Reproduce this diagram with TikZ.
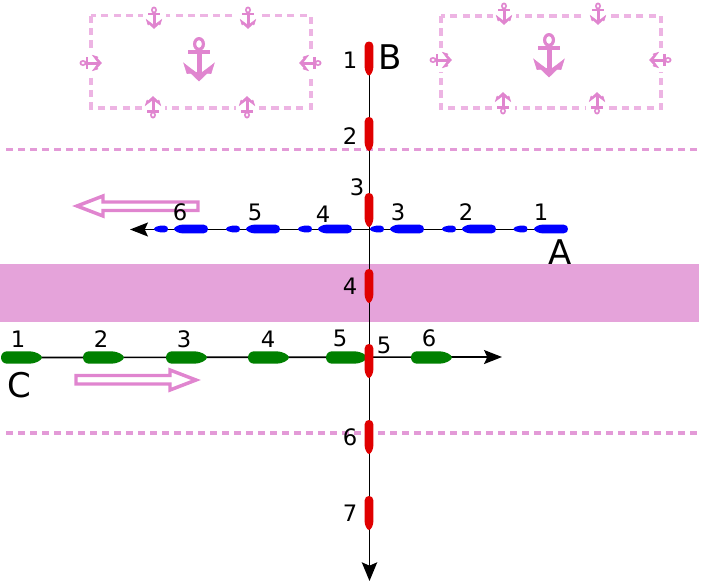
\documentclass[tikz,border=0pt]{standalone}
\usepackage{fontspec}
\setmainfont{DejaVu Sans}
\usetikzlibrary{arrows.meta}
\definecolor{bandpink}{HTML}{E5A3DA}
\definecolor{anchorpink}{HTML}{E085CF}
\definecolor{lightdash}{HTML}{EDB4E3}
\definecolor{shipred}{HTML}{E00000}
\definecolor{shipblue}{HTML}{0000FF}
\definecolor{shipgreen}{HTML}{008000}
\tikzset{
  zone/.style={bandpink!70!anchorpink,line width=2.9pt,dash pattern=on 5.6pt off 3.4pt},
  lane/.style={draw=lightdash,line width=2.3pt,dash pattern=on 5.4pt off 3.9pt},
  track/.style={line width=1.25pt,draw=black,-{Stealth[length=13.5pt,width=10.5pt,inset=2.5pt]}},
  trackv/.style={line width=1.25pt,draw=black,-{Stealth[length=14pt,width=11.5pt,inset=2.5pt]}},
  hollow/.style={draw=anchorpink,line width=2.6pt,fill=white,line join=miter},
  num/.style={font=\fontsize{17}{19}\selectfont,inner sep=0pt,text=black},
  big/.style={font=\fontsize{25.5}{28}\selectfont,inner sep=0pt,text=black},
  amark/.style={fill=anchorpink,draw=anchorpink,line width=0.45pt},
}
% \anchormark{x}{y}{scale}{rotation}
\newcommand{\anchormark}[4]{%
  \begin{scope}[shift={(#1,#2)},rotate=#4,scale=#3]
    \fill[white] (-23,-22) rectangle (23,22);
    \fill[anchorpink,even odd rule] (0,-16) ellipse [x radius=6,y radius=7]
      (0,-16) ellipse [x radius=2.9,y radius=3.9];
    \path[amark] (-2,-10) rectangle (2,16);
    \path[amark] (-10.5,-9.6) rectangle (10.5,-7);
    \path[amark] (-15.2,3.3) -- (-12,13.5) -- (-8,13.3) -- (0,21) -- (8,13.3) -- (12,13.5)
      -- (15.2,3.3) -- (8.5,8.5) -- (3,12.5) -- (-3,12.5) -- (-8.5,8.5) -- cycle;
  \end{scope}}
% \ship{x}{y}{half length}{half beam}{colour}{rotation}: pointing along local +x
\newcommand{\ship}[6]{%
  \begin{scope}[shift={(#1,#2)},rotate=#6]
    \fill[#5] (-#3+#4,-#4) -- (#3-#4*2,-#4)
      .. controls (#3-#4*1.1,-#4) and (#3,-#4*0.45) .. (#3,0)
      .. controls (#3,#4*0.45) and (#3-#4*1.1,#4) .. (#3-#4*2,#4)
      -- (-#3+#4,#4)
      .. controls (-#3-#4*0.33,#4) and (-#3-#4*0.33,-#4) .. (-#3+#4,-#4) -- cycle;
  \end{scope}}
\begin{document}
\begin{tikzpicture}[x=0.75pt,y=-0.75pt]
\useasboundingbox (0,0) rectangle (702,582);
% water band and zone limits
\fill[bandpink] (0,264) rectangle (699,322);
\coordinate (z1a) at (6,149.5); \coordinate (z1b) at (698,149.5);
\coordinate (z2a) at (6,433); \coordinate (z2b) at (698,433);
\draw[zone] (z1a) -- (z1b);
\draw[zone] (z2a) -- (z2b);
% anchorages
\draw[lane] (91,15.5) rectangle (311,108);
\draw[lane] (441,16) rectangle (661,108);
\anchormark{199}{60}{1}{0}
\anchormark{154}{18}{0.5}{0}
\anchormark{248}{18}{0.5}{0}
\anchormark{153}{107}{0.5}{180}
\anchormark{247}{107}{0.5}{180}
\anchormark{91}{63}{0.5}{90}
\anchormark{310}{63}{0.5}{-90}
\anchormark{549}{56}{1}{0}
\anchormark{504}{14}{0.5}{0}
\anchormark{598}{14}{0.5}{0}
\anchormark{503}{103}{0.5}{180}
\anchormark{597}{103}{0.5}{180}
\anchormark{441}{60}{0.5}{90}
\anchormark{660}{60}{0.5}{-90}
% hollow direction arrows
\draw[hollow] (198,202) -- (103,202) -- (103,196) -- (77,206) -- (103,216) -- (103,210.5) -- (198,210.5) -- cycle;
\draw[hollow] (76,375.5) -- (170,375.5) -- (170,370) -- (196,380) -- (170,390) -- (170,384) -- (76,384) -- cycle;
% tracks
\coordinate (Astart) at (551,229.5); \coordinate (Aend) at (130,229.5);
\coordinate (Bstart) at (369.5,58); \coordinate (Bend) at (369.5,581);
\coordinate (Cstart) at (20,357.5); \coordinate (Cend) at (502,357);
\draw[track] (Astart) -- (Aend);
\draw[track] (Cstart) -- (Cend);
\draw[trackv] (Bstart) -- (Bend);
% ships A
\foreach \x in {551,479,407,335,263,191} {\ship{\x}{229}{17}{4.4}{shipblue}{180}}
\foreach \x in {520.5,449,377,305,233,161} {\ship{\x}{229}{7}{3.4}{shipblue}{180}}
% ships C
\foreach \x in {21.5,103.5,186.5,268.5,346.5,431.5} {\ship{\x}{357.5}{20.5}{6.2}{shipgreen}{0}}
% ships B
\foreach \y in {58.5,134,210,286,361,437,513} {\ship{369}{\y}{17}{4.4}{shipred}{-90}}
% labels
\node[big] (lA) at (560.5,252) {A};
\node[big] (lB) at (390.5,57.5) {B};
\node[big] (lC) at (19,385) {C};
\node[num] (b1) at (350,60) {1};
\node[num] (b2) at (350,136) {2};
\node[num] (b3) at (357,187) {3};
\node[num] (b4) at (350,286) {4};
\node[num] (b5) at (384,345) {5};
\node[num] (b6) at (350,437) {6};
\node[num] (b7) at (350,513) {7};
\node[num] (a1) at (541,212) {1};
\node[num] (a2) at (466,212) {2};
\node[num] (a3) at (398,212) {3};
\node[num] (a4) at (323,214) {4};
\node[num] (a5) at (255,212) {5};
\node[num] (a6) at (180,212) {6};
\node[num] (c1) at (18,339) {1};
\node[num] (c2) at (101,339) {2};
\node[num] (c3) at (184,339) {3};
\node[num] (c4) at (268,339) {4};
\node[num] (c5) at (340,338) {5};
\node[num] (c6) at (429,338) {6};
\end{tikzpicture}
\end{document}
